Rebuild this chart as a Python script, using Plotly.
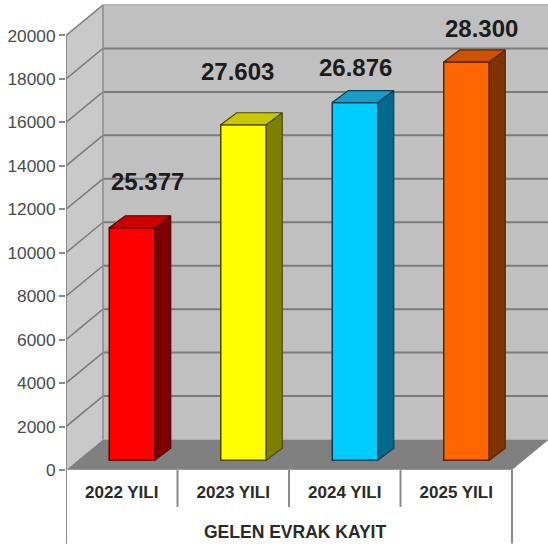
import plotly.graph_objects as go

# --- data ---
categories = ["2022 YILI", "2023 YILI", "2024 YILI", "2025 YILI"]
values = [10700, 15440, 16460, 18330]
value_labels = ["25.377", "27.603", "26.876", "28.300"]
y_ticks = [0, 2000, 4000, 6000, 8000, 10000, 12000, 14000, 16000, 18000, 20000]
axis_title = "GELEN EVRAK KAYIT"
front_colors = ["#ff0000", "#ffff00", "#00ccff", "#ff6600"]
side_colors = ["#7d0000", "#808000", "#006a8c", "#803300"]
top_colors = ["#cc0000", "#c8c800", "#1a9cc8", "#cc5200"]
edge_colors = ["#5a0000", "#4a4a00", "#003f55", "#5a2500"]

# --- layout constants ---
W, H = 548, 544
LEFT, BOTTOM = 66, 73.5
CAT_PX = 111.5
PX_PER_UNIT = 0.02175
X_MAX = (W - LEFT) / CAT_PX
Y_MAX = (H - BOTTOM) / PX_PER_UNIT
DEPTH_X, DEPTH_Y = 37 / CAT_PX, 30.5 / PX_PER_UNIT
BAR_W = 45.5 / CAT_PX
BAR_SHIFT_X, BAR_BASE = 10.25 / CAT_PX, 9.8 / PX_PER_UNIT
SIDE_X, SIDE_Y = 16 / CAT_PX, 12 / PX_PER_UNIT
GRID = "#7b7b7b"
AX = "#8a8a8a"
n = len(categories)
Y_TOP = y_ticks[-1]

shapes = []
def poly(xs, ys, fill):
    path = "M " + " L ".join(f"{x},{y}" for x, y in zip(xs, ys)) + " Z"
    shapes.append(dict(type="path", path=path, fillcolor=fill, line=dict(width=0),
                       layer="below", xref="x", yref="y"))

# back wall, left wall, floor
poly([DEPTH_X, X_MAX, X_MAX, DEPTH_X], [DEPTH_Y, DEPTH_Y, Y_TOP + DEPTH_Y, Y_TOP + DEPTH_Y], "#c0c0c0")
poly([0, DEPTH_X, DEPTH_X, 0], [0, DEPTH_Y, Y_TOP + DEPTH_Y, Y_TOP], "#c9c9c9")
poly([0, n, n + DEPTH_X, DEPTH_X], [0, 0, DEPTH_Y, DEPTH_Y], "#808080")

for t in y_ticks[1:]:
    shapes.append(dict(type="line", x0=DEPTH_X, x1=X_MAX, y0=t + DEPTH_Y, y1=t + DEPTH_Y,
                       line=dict(color=GRID if t < Y_TOP else "#b4b4b4", width=2), layer="below"))
    shapes.append(dict(type="line", x0=0, x1=DEPTH_X, y0=t, y1=t + DEPTH_Y,
                       line=dict(color=GRID, width=1.5), layer="below"))
shapes.append(dict(type="line", x0=DEPTH_X, x1=DEPTH_X, y0=DEPTH_Y, y1=Y_TOP + DEPTH_Y,
                   line=dict(color="#8c8c8c", width=1.5), layer="below"))
shapes.append(dict(type="line", x0=0, x1=0, y0=0, y1=Y_TOP,
                   line=dict(color=AX, width=2), layer="below"))
shapes.append(dict(type="line", x0=0, x1=n, y0=0, y1=0,
                   line=dict(color="#9a9a9a", width=2), layer="above"))

# lines under the axis (table-like frame)
bottom_paper = -BOTTOM / (H - BOTTOM)
for i in range(n + 1):
    low = bottom_paper if i in (0, n) else -37 / (H - BOTTOM)
    shapes.append(dict(type="line", xref="x", yref="paper", x0=i, x1=i, y0=0, y1=low,
                       line=dict(color=AX, width=2)))

fig = go.Figure()

bar_x = [i + 0.5 + BAR_SHIFT_X for i in range(n)]
fig.add_trace(go.Bar(
    x=bar_x, y=values, base=[BAR_BASE] * n, width=[BAR_W] * n,
    marker=dict(color=front_colors, line=dict(color=edge_colors, width=1.5)),
    showlegend=False, hoverinfo="skip"))

for cx, v, sc, tc, ec in zip(bar_x, values, side_colors, top_colors, edge_colors):
    l, r = cx - BAR_W / 2, cx + BAR_W / 2
    b, t = BAR_BASE, BAR_BASE + v
    fig.add_trace(go.Scatter(
        x=[r, r + SIDE_X, r + SIDE_X, r, r], y=[b, b + SIDE_Y, t + SIDE_Y, t, b],
        mode="lines", fill="toself", fillcolor=sc, line=dict(color=ec, width=1.2),
        showlegend=False, hoverinfo="skip"))
    fig.add_trace(go.Scatter(
        x=[l, r, r + SIDE_X, l + SIDE_X, l], y=[t, t, t + SIDE_Y, t + SIDE_Y, t],
        mode="lines", fill="toself", fillcolor=tc, line=dict(color=ec, width=1.2),
        showlegend=False, hoverinfo="skip"))

label_shift_x = [15, -6, 0, 15]
label_shift_y = [46, 53, 35, 33]
annotations = []
for cx, v, txt, sx, sy in zip(bar_x, values, value_labels, label_shift_x, label_shift_y):
    annotations.append(dict(x=cx, y=BAR_BASE + v, text=f"<b>{txt}</b>", showarrow=False,
                            xshift=sx, yshift=sy, xanchor="center", yanchor="middle",
                            font=dict(family="Liberation Sans", size=24, color="#1c1c1c")))
annotations.append(dict(xref="x", yref="paper", x=(295 - LEFT) / CAT_PX, y=-(533 - (H - BOTTOM)) / (H - BOTTOM),
                        text=f"<b>{axis_title}</b>", showarrow=False, xanchor="center", yanchor="middle",
                        font=dict(family="Liberation Sans", size=17.5, color="#2a2a2a")))

fig.update_layout(
    width=W, height=H, margin=dict(l=LEFT, r=0, t=0, b=BOTTOM),
    paper_bgcolor="white", plot_bgcolor="white", showlegend=False,
    shapes=shapes, annotations=annotations,
    xaxis=dict(range=[0, X_MAX], tickmode="array",
               tickvals=[i + 0.5 for i in range(n)],
               ticktext=[f"<b>{c}</b>" for c in categories],
               showgrid=False, zeroline=False, showline=False, ticks="", ticklen=0,
               ticklabelstandoff=10,
               tickfont=dict(family="Liberation Sans", size=17, color="#2a2a2a")),
    yaxis=dict(range=[0, Y_MAX], tickmode="array", tickvals=y_ticks,
               showgrid=False, zeroline=False, showline=False, separatethousands=False,
               tickformat="d", ticks="outside", ticklen=6, tickwidth=1.5, tickcolor=AX,
               tickfont=dict(family="Liberation Sans", size=17.3, color="#4a4a4a")),
)
fig.write_html("out.html", config={"displayModeBar": False},
               post_script="document.body.style.margin='0';document.body.style.overflow='hidden';")
